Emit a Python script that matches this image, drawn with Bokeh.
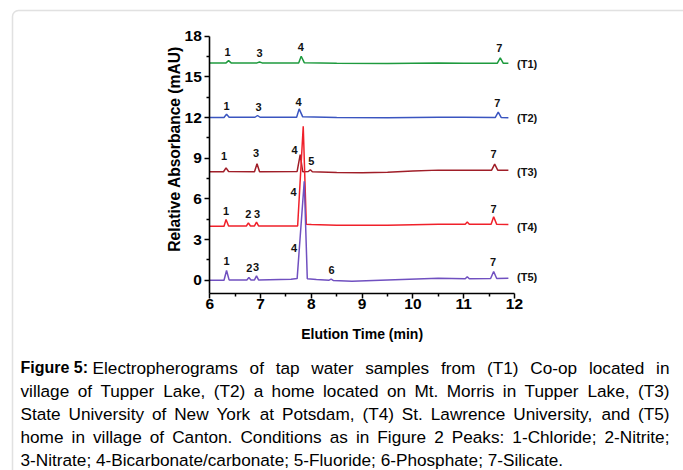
import math
from bokeh.plotting import figure
from bokeh.models import FixedTicker, LinearAxis, BoxAnnotation
from bokeh.core.properties import value
from bokeh.embed import file_html
from bokeh.resources import INLINE

# ---------------- data ----------------
series_names = ["(T1)", "(T2)", "(T3)", "(T4)", "(T5)"]
series_colors = ["#1e9a3e", "#3a55c0", "#a01e28", "#f0202a", "#7050c0"]
series_label_y = [15.96, 11.95, 7.97, 3.96, 0.22]

t1_x = [6.0, 6.32, 6.37, 6.42, 6.93, 6.98, 7.03, 7.75, 7.80, 7.86, 8.5, 9.5, 10.5, 11.0, 11.66, 11.72, 11.78, 11.88]
t1_y = [16.02, 16.03, 16.2, 16.03, 16.03, 16.1, 16.03, 16.03, 16.52, 16.05, 16.0, 15.98, 16.02, 16.0, 16.0, 16.4, 16.0, 16.0]

t2_x = [6.0, 6.28, 6.33, 6.38, 6.89, 6.94, 6.99, 7.71, 7.76, 7.83, 8.5, 9.5, 10.5, 11.0, 11.62, 11.68, 11.74, 11.88]
t2_y = [12.0, 12.0, 12.25, 12.02, 12.02, 12.15, 12.02, 12.02, 12.64, 12.05, 12.0, 11.98, 12.02, 12.02, 12.0, 12.39, 12.0, 11.98]

t3_x = [6.0, 6.27, 6.32, 6.37, 6.88, 6.93, 6.98, 7.72, 7.78, 7.83, 7.94, 7.98, 8.02, 8.5, 9.0, 9.5, 10.0, 10.5, 11.0, 11.55, 11.61, 11.67, 11.88]
t3_y = [8.0, 8.0, 8.29, 8.02, 8.0, 8.59, 8.0, 8.02, 9.27, 8.0, 8.02, 8.15, 8.0, 7.95, 7.93, 7.97, 8.05, 8.12, 8.12, 8.12, 8.56, 8.12, 8.12]

t4_x = [6.0, 6.28, 6.32, 6.37, 6.72, 6.76, 6.80, 6.88, 6.92, 6.96, 7.6, 7.73, 7.84, 7.90, 8.0, 8.5, 9.5, 10.5, 11.03, 11.07, 11.11, 11.54, 11.59, 11.65, 11.88]
t4_y = [3.98, 3.98, 4.48, 4.0, 4.0, 4.23, 4.0, 4.0, 4.28, 4.0, 4.0, 4.0, 11.36, 4.13, 4.1, 4.05, 4.05, 4.12, 4.13, 4.3, 4.13, 4.12, 4.68, 4.12, 4.1]

t5_x = [6.0, 6.28, 6.33, 6.38, 6.73, 6.77, 6.81, 6.88, 6.92, 6.96, 7.6, 7.72, 7.86, 7.92, 8.1, 8.35, 8.39, 8.43, 8.8, 9.5, 10.5, 11.03, 11.07, 11.11, 11.53, 11.59, 11.65, 11.88]
t5_y = [0.0, 0.0, 0.72, 0.02, 0.02, 0.2, 0.02, 0.02, 0.32, 0.02, 0.07, 0.12, 7.3, 0.1, 0.05, 0.0, 0.08, -0.02, -0.07, 0.02, 0.14, 0.1, 0.25, 0.1, 0.12, 0.64, 0.13, 0.15]

# peak number annotations
peak_text = ["1", "3", "4", "7",
             "1", "3", "4", "7",
             "1", "3", "4", "5", "7",
             "1", "2", "3", "4", "7",
             "1", "2", "3", "4", "6", "7"]
peak_x = [6.35, 6.98, 7.79, 11.70,
          6.33, 6.96, 7.75, 11.66,
          6.28, 6.91, 7.67, 8.00, 11.59,
          6.32, 6.76, 6.93, 7.65, 11.59,
          6.33, 6.78, 6.91, 7.66, 8.40, 11.58]
peak_y = [16.82, 16.77, 17.19, 17.11,
          12.84, 12.76, 13.18, 13.06,
          9.13, 9.37, 9.57, 8.83, 9.32,
          5.07, 4.85, 4.90, 6.54, 5.24,
          1.40, 0.91, 1.01, 2.39, 0.72, 1.31]

x_ticks = [6, 7, 8, 9, 10, 11, 12]
x_minor = [6.5, 7.5, 8.5, 9.5, 10.5, 11.5]
y_ticks = [0, 3, 6, 9, 12, 15, 18]
y_minor = [1.5, 4.5, 7.5, 10.5, 13.5, 16.5]

x_title = "Elution Time (min)"
y_title = "Relative Absorbance (mAU)"
caption_bold = "Figure 5:"
caption_lines = [
    "Electropherograms of tap water samples from (T1) Co-op located in",
    "village of Tupper Lake, (T2) a home located on Mt. Morris in Tupper Lake, (T3)",
    "State University of New York at Potsdam, (T4) St. Lawrence University, and (T5)",
    "home in village of Canton. Conditions as in Figure 2 Peaks: 1-Chloride; 2-Nitrite;",
    "3-Nitrate; 4-Bicarbonate/carbonate; 5-Fluoride; 6-Phosphate; 7-Silicate.",
]

FONT = "Liberation Sans"

# ---------------- layout (pixel geometry of the canvas) ----------------
W, H = 683, 470
X0_PX, X_SCALE = 209.3, 50.78      # pixel of x=6, pixels per minute
Y0_PX, Y_SCALE = 279.7, 13.556     # pixel of y=0, pixels per mAU


def px_x(px):
    return 6 + (px - X0_PX) / X_SCALE


def px_y(py):
    return (Y0_PX - py) / Y_SCALE


# Liberation Sans (Arial-metric) advance widths, per 1000 em, used to justify the caption
_W = {" ": 278, "(": 333, ")": 333, ",": 278, "-": 333, ".": 278, "/": 278, ":": 278, ";": 278,
      "A": 667, "B": 667, "C": 722, "D": 722, "E": 667, "F": 611, "G": 778, "H": 722, "I": 278,
      "J": 500, "K": 667, "L": 556, "M": 833, "N": 722, "O": 778, "P": 667, "Q": 778, "R": 722,
      "S": 667, "T": 611, "U": 722, "V": 667, "W": 944, "X": 667, "Y": 667, "Z": 611,
      "a": 556, "b": 556, "c": 500, "d": 556, "e": 556, "f": 278, "g": 556, "h": 556, "i": 222,
      "j": 222, "k": 500, "l": 222, "m": 833, "n": 556, "o": 556, "p": 556, "q": 556, "r": 333,
      "s": 500, "t": 278, "u": 556, "v": 500, "w": 722, "x": 500, "y": 500, "z": 500}


def text_width(s, size):
    return sum(_W.get(ch, 556) for ch in s) / 1000.0 * size


p = figure(width=W, height=H, output_backend="svg", toolbar_location=None,
           x_range=(px_x(0), px_x(W)), y_range=(px_y(H), px_y(0)),
           x_axis_location=None, y_axis_location=None,
           min_border=0, min_border_left=0, min_border_right=0, min_border_top=0, min_border_bottom=0)
p.outline_line_color = None
p.background_fill_color = "white"
p.border_fill_color = "white"
p.xgrid.visible = False
p.ygrid.visible = False

x_axis_y = -0.95
xaxis = LinearAxis(fixed_location=x_axis_y, bounds=(6, 12),
                   ticker=FixedTicker(ticks=x_ticks, minor_ticks=x_minor))
yaxis = LinearAxis(fixed_location=6, bounds=(x_axis_y, 18),
                   ticker=FixedTicker(ticks=y_ticks, minor_ticks=y_minor))
for ax in (xaxis, yaxis):
    ax.axis_line_width = 1.6
    ax.axis_line_color = "black"
    ax.major_tick_line_width = 1.5
    ax.minor_tick_line_width = 1.5
    ax.major_tick_in = 0
    ax.major_tick_out = 5
    ax.minor_tick_in = 0
    ax.minor_tick_out = 3
    ax.major_label_text_font = FONT
    ax.major_label_text_font_style = "bold"
    ax.major_label_text_font_size = "15.5px"
    ax.major_label_text_color = "black"
xaxis.major_label_standoff = 1
yaxis.major_label_standoff = 3
p.add_layout(xaxis, "below")
p.add_layout(yaxis, "left")

xs = [t1_x, t2_x, t3_x, t4_x, t5_x]
ys = [t1_y, t2_y, t3_y, t4_y, t5_y]
for sx, sy, c in zip(xs, ys, series_colors):
    p.line(sx, sy, line_color=c, line_width=1.5)

p.text(x=peak_x, y=peak_y, text=peak_text, text_font=value(FONT), text_font_style="bold",
       text_font_size="11px", text_align="center", text_baseline="middle", text_color="#111111")

p.text(x=[12.05] * len(series_names), y=series_label_y, text=series_names, text_font=value(FONT),
       text_font_style="bold", text_font_size="11px", text_align="left", text_baseline="middle",
       text_color="#111111")

# axis titles
p.text(x=[9.0], y=[px_y(333)], text=[x_title], text_font=value(FONT), text_font_style="bold",
       text_font_size="14px", text_align="center", text_baseline="middle", text_color="black")
p.text(x=[px_x(174)], y=[px_y(148.5)], text=[y_title], angle=math.pi / 2, text_font=value(FONT),
       text_font_style="bold", text_font_size="15.6px", text_align="center", text_baseline="middle",
       text_color="black")

# caption: justified lines (last line ragged), as in the reference
CAP_SIZE = 17.2
BOLD_SIZE = 16.0
cap_left_px, cap_right_px = 20.0, 669.0
bold_w = 4.223 * BOLD_SIZE
p.text(x=[px_x(cap_left_px)], y=[px_y(367)], text=[caption_bold], text_font=value(FONT),
       text_font_style="bold", text_font_size=f"{BOLD_SIZE}px", text_align="left",
       text_baseline="alphabetic", text_color="black")

word_x, word_y, word_t = [], [], []
for i, line in enumerate(caption_lines):
    base = px_y(367 + 23 * i)
    start = cap_left_px + (bold_w + 4.5 if i == 0 else 0.0)
    if i == len(caption_lines) - 1:
        word_x.append(px_x(start))
        word_y.append(base)
        word_t.append(line)
        continue
    words = line.split(" ")
    natural = sum(text_width(w, CAP_SIZE) for w in words)
    gap = (cap_right_px - start - natural) / (len(words) - 1)
    cur = start
    for w in words:
        word_x.append(px_x(cur))
        word_y.append(base)
        word_t.append(w)
        cur += text_width(w, CAP_SIZE) + gap
p.text(x=word_x, y=word_y, text=word_t, text_font=value(FONT), text_font_size=f"{CAP_SIZE}px",
       text_align="left", text_baseline="alphabetic", text_color="black")

# panel border with rounded top-left corner
p.add_layout(BoxAnnotation(left=px_x(12), right=px_x(W + 40), top=px_y(10), bottom=px_y(H + 40),
                           fill_alpha=0, line_color="#9a9a9a", line_width=1.5, border_radius=6))

open("out.html", "w").write(file_html(p, INLINE))
